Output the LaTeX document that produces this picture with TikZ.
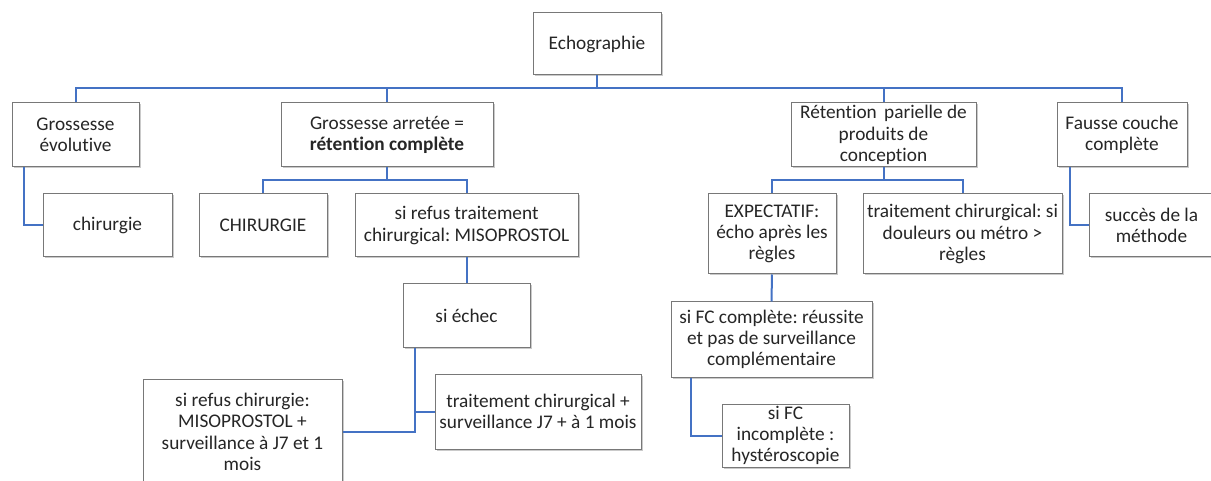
\documentclass[tikz,border=0pt]{standalone}
\usepackage{fontspec}
\setmainfont{Carlito}[Ligatures=NoCommon]
\frenchspacing
\usetikzlibrary{shadows}
\definecolor{linkblue}{RGB}{68,114,196}
\definecolor{boxedge}{RGB}{120,120,120}
\begin{document}
\begin{tikzpicture}[x=1pt,y=-1pt,
  box/.style={draw=boxedge, line width=1pt, fill=white, rectangle, inner sep=0pt, align=center,
    font=\fontsize{19.3}{21.3}\selectfont, text=black!85,
    drop shadow={shadow xshift=1.5pt, shadow yshift=-1.5pt, fill=black!35, opacity=0.6}},
  conn/.style={draw=linkblue, line width=2pt}]
\useasboundingbox (0,0) rectangle (1211,481);
% level 0
\node[box, minimum width=128, minimum height=62] (echo) at (597,44) {Echographie};
% level 1
\node[box, minimum width=127, minimum height=64] (ge) at (75.5,135) {Grossesse\\évolutive};
\node[box, minimum width=212, minimum height=64] (ga) at (387,135) {Grossesse arretée =\\\textbf{rétention complète}};
\node[box, minimum width=185, minimum height=64] (rp) at (883.5,135) {Rétention\hspace{3pt} parielle de\\produits de\\conception};
\node[box, minimum width=130, minimum height=64] (fc) at (1122,135) {Fausse couche\\complète};
% level 2
\node[box, minimum width=129, minimum height=63] (chir) at (107.5,225.5) {chirurgie};
\node[box, minimum width=128, minimum height=63] (chirB) at (263,225.5) {CHIRURGIE};
\node[box, minimum width=223, minimum height=63] (srt) at (466.5,225.5) {si refus traitement\\chirurgical: MISOPROSTOL};
\node[box, minimum width=128, minimum height=80] (expt) at (772,234) {EXPECTATIF:\\écho après les\\règles};
\node[box, minimum width=199, minimum height=80] (tcsi) at (962.5,234) {\makebox[197pt]{traitement chirurgical: si}\\douleurs ou métro >\\règles};
\node[box, minimum width=125, minimum height=63] (succ) at (1151.5,225.5) {succès de la\\méthode};
% level 3
\node[box, minimum width=127, minimum height=63] (sec) at (466.5,315.5) {si échec};
\node[box, minimum width=201, minimum height=75] (sfc) at (771.5,339.5) {si FC complète: réussite\\et pas de surveillance\\complémentaire};
% level 4
\node[box, minimum width=199, minimum height=106] (src) at (242.5,432) {si refus chirurgie:\\MISOPROSTOL +\\surveillance à J7 et 1\\mois};
\node[box, minimum width=206, minimum height=75] (tcs) at (538,411.5) {traitement chirurgical +\\\makebox[204pt]{surveillance J7 + à 1 mois}};
\node[box, minimum width=127, minimum height=63] (sfci) at (785.5,435.5) {si FC\\incomplète :\\hystéroscopie};
% connectors
\draw[conn] (echo.south) -- ++(0,13);
\draw[conn] (ge.north) -- ++(0,-14) -| (fc.north);
\draw[conn] (ga.north) -- ++(0,-14);
\draw[conn] (rp.north) -- ++(0,-14);
\draw[conn] ([xshift=12]ge.south west) |- (chir.west);
\draw[conn] (ga.south) -- ++(0,13) -| (chirB.north);
\draw[conn] (ga.south) ++(0,13) -| (srt.north);
\draw[conn] (srt.south) -- (sec.north);
\draw[conn] ([xshift=12]sec.south west) |- (src.east);
\draw[conn] ([xshift=12]sec.south west) |- (tcs.west);
\draw[conn] (rp.south) -- ++(0,13) -| (expt.north);
\draw[conn] (rp.south) ++(0,13) -| (tcsi.north);
\draw[conn] (expt.south) -- (sfc.north);
\draw[conn] ([xshift=20]sfc.south west) |- (sfci.west);
\draw[conn] ([xshift=13]fc.south west) |- (succ.west);
\end{tikzpicture}
\end{document}
